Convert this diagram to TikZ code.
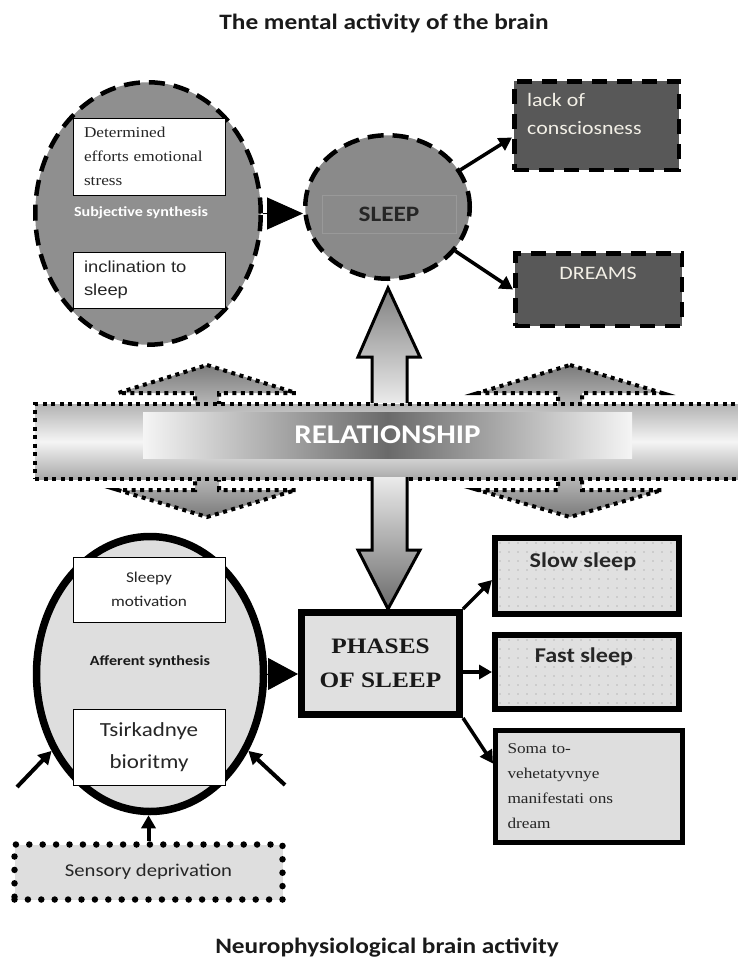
\documentclass[tikz,border=0pt]{standalone}
\usepackage{fontspec}
\usetikzlibrary{shapes.geometric,arrows.meta,calc}
\newfontfamily\calf{Carlito}[FakeStretch=1.15]
\newfontfamily\tmsf{Liberation Serif}[FakeStretch=1.15]
\newfontfamily\arif{Liberation Sans}[FakeStretch=1.15]
\newcommand\fs[2]{\fontsize{#1}{#2}\selectfont}
\definecolor{subjgray}{HTML}{8F8F8F}
\definecolor{sleepgray}{HTML}{8A8A8A}
\definecolor{boxdark}{HTML}{585858}
\definecolor{lightfill}{HTML}{DEDEDE}
\definecolor{phasefill}{HTML}{E0E0E0}
\definecolor{lighttext}{HTML}{F2EFE6}
\definecolor{bandmid}{HTML}{6A6A6A}
\definecolor{dotc}{HTML}{8C8C8C}
\definecolor{titlec}{HTML}{1A1A1A}
\begin{document}
\begin{tikzpicture}[x=1pt,y=-1pt,
  dashline/.style={line width=4.5pt, dash pattern=on 16pt off 9pt},
  boxdash/.style={line width=4.5pt, dash pattern=on 15pt off 10pt},
  inbox/.style={rectangle, draw=black, line width=1pt, fill=white, inner ysep=0pt},
  darkbox/.style={rectangle, fill=boxdark, draw=black, boxdash, inner sep=0pt},
  arr/.style={line width=3.5pt, -{Triangle[length=13pt,width=14pt]}},
  arrs/.style={line width=4pt, -{Triangle[length=13pt,width=14pt]}},
  bigtri/.style={line width=1pt, -{Triangle[length=36pt,width=32pt]}},
  bigtrib/.style={line width=1pt, -{Triangle[length=30pt,width=32pt]}},
  dotline/.style={line width=4pt, dash pattern=on 4pt off 4.5pt},
  blockarr/.style={line width=3pt, line join=miter},
  thickbox/.style={rectangle, draw=black, inner sep=0pt}
]
\useasboundingbox (0,0) rectangle (738,958);

% titles
\node[anchor=base, inner sep=0pt, font=\calf\bfseries\fs{22}{26}, text=titlec] (ttop) at (384,30) {The mental activity of the brain};
\node[anchor=base, inner sep=0pt, font=\calf\bfseries\fs{22}{26}, text=titlec] (tbot) at (387,953) {Neurophysiological brain activity};

% dotted double arrows (behind the bar)
\path[dotline, draw=black, top color=black!52, bottom color=black!52, middle color=black!6]
  (207,365) -- (296,393) -- (219,393) -- (219,490) -- (296,490) -- (207,517) -- (118,490) -- (195,490) -- (195,393) -- (118,393) -- cycle;
\path[dotline, draw=black, top color=black!52, bottom color=black!52, middle color=black!6]
  (570,365) -- (662,393) -- (582,393) -- (582,490) -- (662,490) -- (570,517) -- (478,490) -- (558,490) -- (558,393) -- (478,393) -- cycle;

% relationship bar
\begin{scope}
\clip (0,0) rectangle (738,958);
\node[rectangle, draw=black, dotline, top color=black!30, bottom color=black!34, middle color=black!4, minimum width=712pt, minimum height=75pt, inner sep=0pt, anchor=north west] (rel) at (33,402) {};
\end{scope}
\node[rectangle, inner sep=0pt, minimum width=489pt, minimum height=46pt, left color=black!4, right color=black!4, middle color=bandmid, font=\calf\bfseries\fs{27}{30}, text=white] (band) at (387.5,435) {RELATIONSHIP};

% top-left ellipse
\node[ellipse, draw=black, dashline, fill=subjgray, minimum width=225.5pt, minimum height=262.5pt, inner sep=0pt] (subj) at (148,213.5) {};
\node[inbox, minimum width=152pt, minimum height=77pt, text width=130pt, inner xsep=11pt, align=left, font=\tmsf\fs{15}{24}, text=black!85] (det) at (149,156.5) {Determined\\efforts emotional\\stress};
\node[font=\calf\bfseries\fs{14}{16}, text=white] (subjlbl) at (141,213) {Subjective synthesis};
\node[inbox, minimum width=152pt, minimum height=56pt, text width=130pt, inner xsep=11pt, align=left, font=\arif\fs{16}{23}, text=black!85] (incl) at (149,280) {inclination to\\sleep};

% sleep circle
\node[ellipse, draw=black, dashline, fill=sleepgray, minimum width=164.5pt, minimum height=143.5pt, inner sep=0pt] (sleep) at (387.5,207) {};
\node[rectangle, draw=black!40, line width=0.6pt, minimum width=134pt, minimum height=38pt, inner sep=0pt, font=\calf\bfseries\fs{22}{26}, text=black!85] (sleeplbl) at (389,214) {SLEEP};
\draw[bigtri] (subj.east) -- (subj.east -| sleep.west);

% dark boxes
\node[darkbox, minimum width=164.5pt, minimum height=88.5pt] (lack) at (596.5,125.5) {};
\node[anchor=north west, inner sep=0pt, align=left, font=\calf\fs{19}{28}, text=lighttext] (lacktxt) at (527,93) {lack of\\consciosness};
\node[darkbox, minimum width=166.5pt, minimum height=72.5pt] (dreams) at (598.5,289.5) {};
\node[inner sep=0pt, font=\calf\fs{19}{22}, text=lighttext] (dreamstxt) at (598,273) {DREAMS};
\draw[arr] (sleep.27) -- ($(lack.west)+(0,12)$);
\draw[arr] (sleep.-33) -- (dreams.west);

% central block arrows
\shade[top color=black!50, bottom color=black!8] (372,403) -- (372,357) -- (358,357) -- (388,288) -- (420,357) -- (407,357) -- (407,403) -- cycle;
\draw[blockarr] (372,403) -- (372,357) -- (358,357) -- (388,288) -- (420,357) -- (407,357) -- (407,403);
\shade[top color=black!8, bottom color=black!58] (372,477) -- (372,550) -- (358,550) -- (388,609) -- (420,550) -- (407,550) -- (407,477) -- cycle;
\draw[blockarr] (372,477) -- (372,550) -- (358,550) -- (388,609) -- (420,550) -- (407,550) -- (407,477);

% lower ellipse
\node[ellipse, draw=black, line width=7.5pt, fill=lightfill, minimum width=227pt, minimum height=275pt, inner sep=0pt] (aff) at (150,674) {};
\node[inbox, minimum width=152pt, minimum height=65pt, text width=130pt, inner xsep=11pt, align=center, font=\calf\fs{15}{24}, text=black!85] (motiv) at (149,589.5) {Sleepy\\motivation};
\node[font=\calf\bfseries\fs{14}{16}, text=black!90] (afflbl) at (150,662) {Afferent synthesis};
\node[inbox, minimum width=152pt, minimum height=76pt, text width=130pt, inner xsep=11pt, align=center, font=\calf\fs{20}{32}, text=black!85] (tsirk) at (149,747) {Tsirkadnye\\bioritmy};

% phases
\node[thickbox, line width=7pt, fill=phasefill, minimum width=158pt, minimum height=102pt, align=center, font=\tmsf\bfseries\fs{22}{34}, text=black!90] (phases) at (380.5,663.5) {PHASES\\OF SLEEP};
\draw[bigtrib] (aff.east) -- (aff.east -| phases.west);

% slow / fast / soma boxes
\node[thickbox, line width=6pt, fill=phasefill, minimum width=184pt, minimum height=76pt] (slow) at (587,576) {};
\node[thickbox, line width=6pt, fill=phasefill, minimum width=184pt, minimum height=74pt] (fast) at (587,672) {};
\foreach \x in {500,509,...,676} {
  \foreach \y in {543,552,...,611} { \fill[dotc] (\x,\y) circle (0.6pt); }
  \foreach \y in {640,649,...,706} { \fill[dotc] (\x,\y) circle (0.6pt); }
}
\node[inner sep=0pt, font=\calf\bfseries\fs{21}{24}, text=black!85] (slowtxt) at (583,562) {Slow sleep};
\node[inner sep=0pt, font=\calf\bfseries\fs{21}{24}, text=black!85] (fasttxt) at (584,657) {Fast sleep};
\node[thickbox, line width=5pt, fill=lightfill, minimum width=187pt, minimum height=112pt, text width=163pt, inner xsep=12pt, align=left, font=\tmsf\fs{15}{25}, text=black!85] (soma) at (589,786.5) {Soma to-\\vehetatyvnye\\manifestati ons\\dream};

\draw[arr] (phases.north east) -- ($(slow.west)+(0,4)$);
\draw[arr] (fast.west -| phases.east) -- (fast.west);
\draw[arr] (phases.south east) -- ($(soma.west)+(0,-23)$);

% sensory deprivation
\node[rectangle, fill=lightfill, draw=black, line width=6.5pt, dash pattern=on 0pt off 13.4pt, line cap=round, minimum width=268pt, minimum height=55pt, inner sep=0pt, font=\calf\fs{18}{20}, text=black!85] (sens) at (148.5,872) {Sensory deprivation};

\coordinate (ld) at (17,787);
\coordinate (rd) at (285,785);
\draw[arrs] (ld) -- (aff.218);
\draw[arrs] (rd) -- (aff.-38);
\draw[arrs] (sens.north) -- (sens.north |- aff.south);
\end{tikzpicture}
\end{document}
